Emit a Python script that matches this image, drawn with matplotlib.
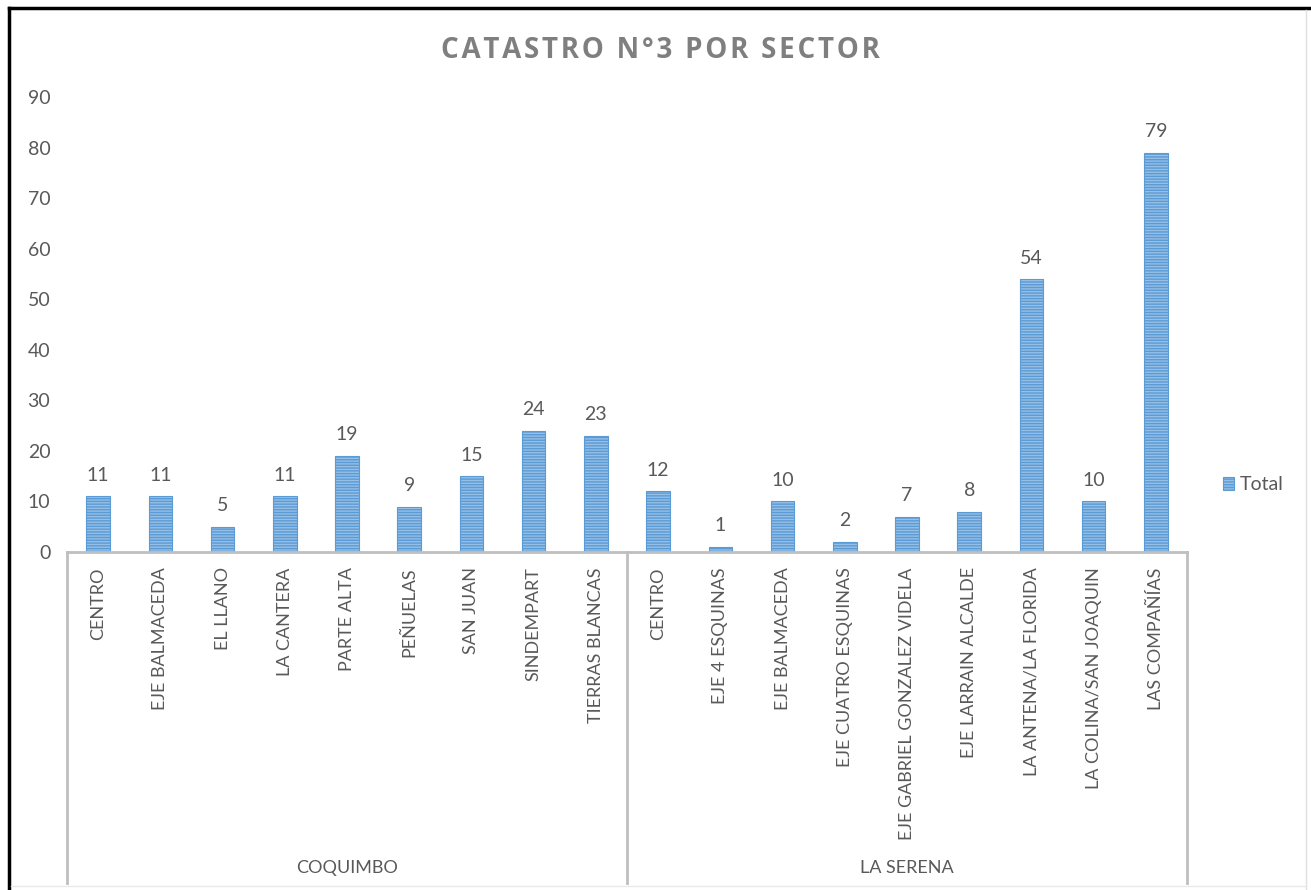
import matplotlib
matplotlib.use("Agg")
import matplotlib.pyplot as plt
from matplotlib.lines import Line2D
from matplotlib.patches import Patch
import matplotlib.transforms as mtransforms

plt.rcParams['font.family'] = ['Lato', 'DejaVu Sans']
plt.rcParams['hatch.linewidth'] = 1.0

# sectores por comuna
groups = ["COQUIMBO", "LA SERENA"]
coquimbo_sectors = ["CENTRO", "EJE BALMACEDA", "EL LLANO", "LA CANTERA", "PARTE ALTA",
                    "PEÑUELAS", "SAN JUAN", "SINDEMPART", "TIERRAS BLANCAS"]
coquimbo_totals = [11, 11, 5, 11, 19, 9, 15, 24, 23]
serena_sectors = ["CENTRO", "EJE 4 ESQUINAS", "EJE BALMACEDA", "EJE CUATRO ESQUINAS",
                  "EJE GABRIEL GONZALEZ VIDELA", "EJE LARRAIN ALCALDE",
                  "LA ANTENA/LA FLORIDA", "LA COLINA/SAN JOAQUIN", "LAS COMPAÑÍAS"]
serena_totals = [12, 1, 10, 2, 7, 8, 54, 10, 79]

labels = coquimbo_sectors + serena_sectors
totals = coquimbo_totals + serena_totals
x = list(range(len(labels)))

text_col = '#595959'
axis_col = '#BFBFBF'
bar_face = '#96BFE6'
bar_edge = '#5B9BD5'

fig = plt.figure(figsize=(13.11, 8.9), dpi=100)
ax = fig.add_axes([67 / 1311, 338 / 890, 1120 / 1311, 455 / 890])

bars = ax.bar(x, totals, width=0.38, color=bar_face, edgecolor=bar_edge,
              linewidth=0.8, hatch='------', label='Total')
ax.bar_label(bars, padding=9, fontsize=14, color=text_col)

ax.set_xlim(-0.5, len(labels) - 0.5)
ax.set_ylim(0, 90)
ax.set_yticks(range(0, 91, 10))
ax.tick_params(axis='y', length=0, pad=12, labelsize=14, labelcolor=text_col)
ax.set_xticks(x)
ax.set_xticklabels(labels, rotation=90, va='top', ha='center')
ax.tick_params(axis='x', length=0, pad=11, labelsize=13, labelcolor=text_col)

for side in ['top', 'right', 'left']:
    ax.spines[side].set_visible(False)
ax.spines['bottom'].set_color(axis_col)
ax.spines['bottom'].set_linewidth(2)

# separadores de comuna y etiquetas de grupo
trans = mtransforms.blended_transform_factory(ax.transData, ax.transAxes)
n1 = len(coquimbo_sectors)
for xs in [-0.5, n1 - 0.5, len(labels) - 0.5]:
    ax.add_line(Line2D([xs, xs], [0, -0.728], transform=trans, color=axis_col,
                       linewidth=2, clip_on=False))
ax.text((n1 - 1) / 2, -0.695, groups[0], transform=trans, ha='center', va='center',
        fontsize=13, color=text_col)
ax.text(n1 + (len(serena_sectors) - 1) / 2, -0.695, groups[1], transform=trans,
        ha='center', va='center', fontsize=13, color=text_col)

# título con espaciado entre letras
title = "CATASTRO N°3 POR SECTOR"
fig.text(660 / 1311, 1 - 51 / 890, "\u200a".join(title), ha='center', va='center',
         fontsize=20, fontweight='bold', color='#7F7F7F', family=['Open Sans', 'DejaVu Sans'])

handle = Patch(facecolor=bar_face, edgecolor=bar_edge, hatch='------', linewidth=0.8)
fig.legend([handle], ['Total'], loc='center left', bbox_to_anchor=(1205 / 1311, 1 - 485 / 890),
           frameon=False, fontsize=14, labelcolor=text_col, handlelength=0.6,
           handleheight=0.6, handletextpad=0.3)

# marco de la imagen
fig.add_artist(Line2D([9 / 1311, 1], [1 - 8 / 890, 1 - 8 / 890], color='black', linewidth=2.5))
fig.add_artist(Line2D([9 / 1311, 9 / 1311], [0, 1 - 8 / 890], color='black', linewidth=2.5))
fig.add_artist(Line2D([1306 / 1311, 1306 / 1311], [0, 1 - 10 / 890], color='#E0E0E0', linewidth=1))
fig.add_artist(Line2D([11 / 1311, 1306 / 1311], [4 / 890, 4 / 890], color='#E8E8E8', linewidth=1))

fig.savefig('out.png', dpi=100)
